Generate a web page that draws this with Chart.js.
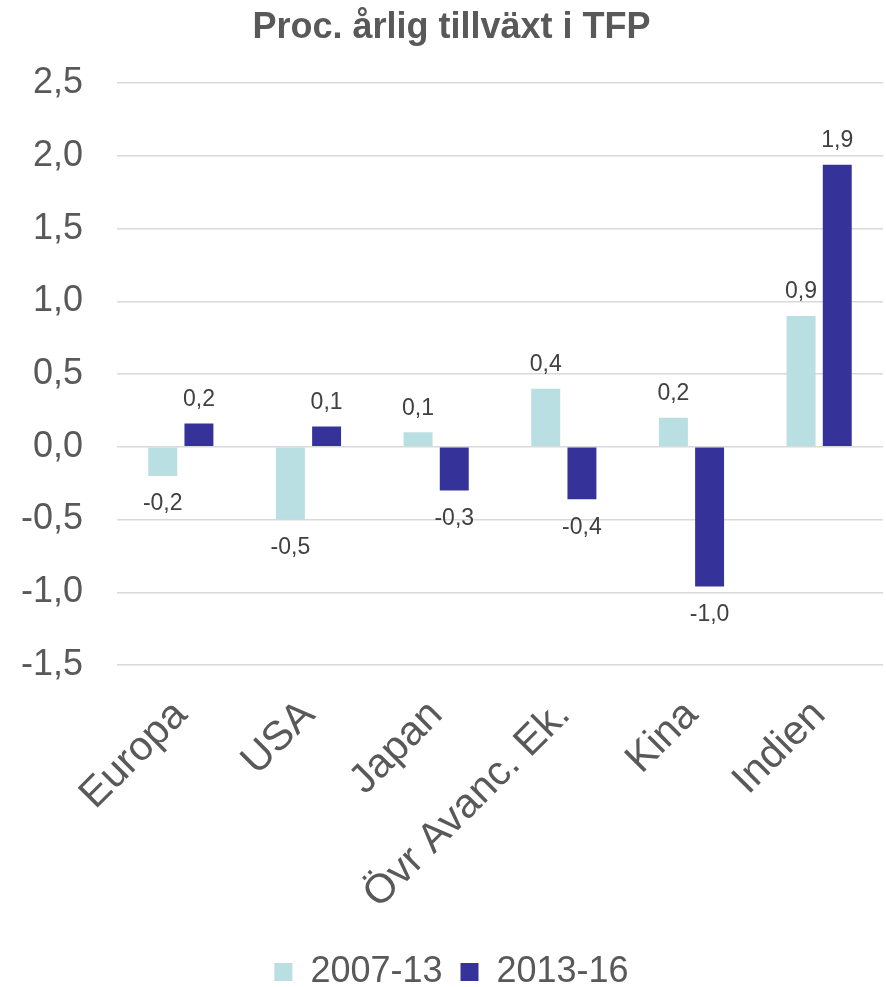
<!DOCTYPE html>
<html lang="sv">
<head>
<meta charset="utf-8">
<title>Proc. årlig tillväxt i TFP</title>
<script src="https://cdn.jsdelivr.net/npm/chart.js@4"></script>
<style>
  html, body { margin: 0; padding: 0; background: #fff; }
  #wrap { width: 886px; height: 987px; position: relative; }
</style>
</head>
<body>
<div id="wrap"><canvas id="tfpChart"></canvas></div>
<script>
// Regions on the x axis
const regions = ['Europa', 'USA', 'Japan', 'Övr Avanc. Ek.', 'Kina', 'Indien'];

// Annual TFP growth, percent
const growth0713 = [-0.2, -0.5, 0.1, 0.4, 0.2, 0.9];
const growth1316 = [0.16, 0.14, -0.3, -0.36, -0.96, 1.94];

const seriesNames = ['2007-13', '2013-16'];
const yTicks = [-1.5, -1.0, -0.5, 0.0, 0.5, 1.0, 1.5, 2.0, 2.5];

const fontFamily = 'Arial, "Liberation Sans", Helvetica, sans-serif';
const grey = '#595959';

// Swedish number format: one decimal, comma separator
const sv = v => {
    const r = Math.sign(v) * Math.round(Math.abs(v) * 10) / 10;
    return r.toFixed(1).replace('.', ',');
};

// Value labels above positive bars and below negative ones
const barValues = {
    id: 'barValues',
    afterDatasetsDraw(chart) {
        const ctx = chart.ctx;
        ctx.save();
        ctx.font = '23px ' + fontFamily;
        ctx.fillStyle = '#404040';
        ctx.textAlign = 'center';
        ctx.textBaseline = 'middle';
        chart.data.datasets.forEach((ds, i) => {
            chart.getDatasetMeta(i).data.forEach((bar, j) => {
                const v = ds.data[j];
                const y = v >= 0 ? bar.y - 24 : bar.y + 28;
                ctx.fillText(sv(v), bar.x, y);
            });
        });
        ctx.restore();
    }
};

new Chart(document.getElementById('tfpChart').getContext('2d'), {
    type: 'bar',
    data: {
        labels: regions,
        datasets: [{
            label: seriesNames[0],
            data: growth0713,
            backgroundColor: '#B9DFE2',
            categoryPercentage: 0.567,
            barPercentage: 0.8
        }, {
            label: seriesNames[1],
            data: growth1316,
            backgroundColor: '#35339A',
            categoryPercentage: 0.567,
            barPercentage: 0.8
        }]
    },
    options: {
        responsive: true,
        maintainAspectRatio: false,
        animation: false,
        layout: {
            padding: { left: 20, right: 3, top: 0, bottom: -13 }
        },
        scales: {
            x: {
                grid: { display: false, drawTicks: false },
                border: { display: false },
                ticks: {
                    color: grey,
                    font: { family: fontFamily, size: 41 },
                    minRotation: 45,
                    maxRotation: 45,
                    padding: 26,
                    labelOffset: 0
                },
                afterFit(scale) {
                    scale.height = 271;
                    scale.paddingLeft = 0;
                    scale.paddingRight = 0;
                }
            },
            y: {
                min: -1.5,
                max: 2.5,
                afterBuildTicks(scale) {
                    scale.ticks = yTicks.map(v => ({ value: v }));
                },
                grid: { color: '#D9D9D9', lineWidth: 1.5, drawTicks: false },
                border: { display: false },
                ticks: {
                    color: grey,
                    font: { family: fontFamily, size: 36 },
                    padding: 34,
                    callback: v => sv(v)
                },
                afterFit(scale) {
                    scale.width = 97;
                }
            }
        },
        plugins: {
            title: {
                display: true,
                text: 'Proc. årlig tillväxt i TFP',
                color: grey,
                font: { family: fontFamily, size: 36, weight: 'bold' },
                padding: { top: 6, bottom: 34 }
            },
            legend: {
                position: 'bottom',
                labels: {
                    color: grey,
                    font: { family: fontFamily, size: 36 },
                    boxWidth: 18,
                    boxHeight: 18,
                    padding: 18
                }
            },
            tooltip: { enabled: false }
        }
    },
    plugins: [barValues]
});
</script>
</body>
</html>
